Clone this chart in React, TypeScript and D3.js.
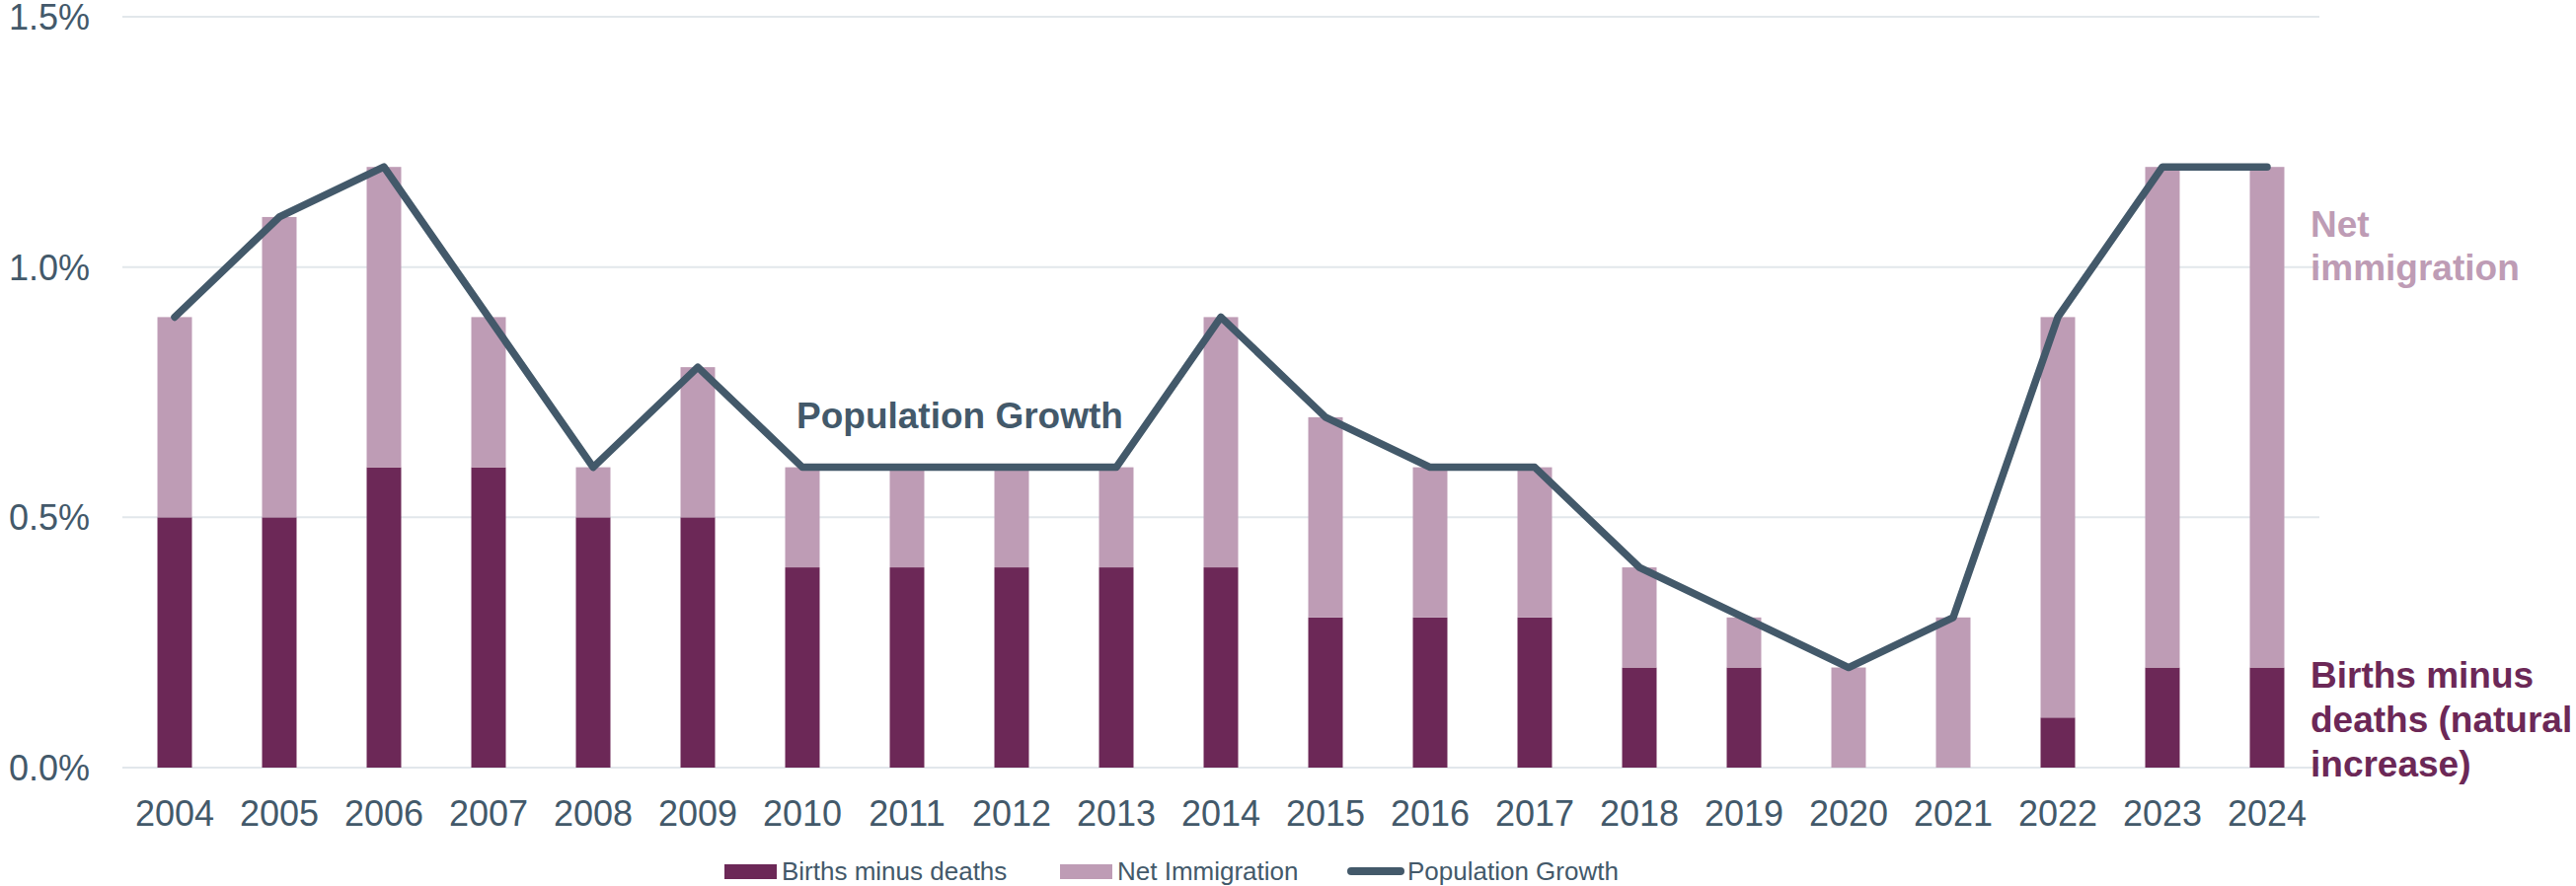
import React, { useEffect, useRef } from "react";
import * as d3 from "d3";

const years = ["2004", "2005", "2006", "2007", "2008", "2009", "2010", "2011", "2012", "2013", "2014", "2015", "2016", "2017", "2018", "2019", "2020", "2021", "2022", "2023", "2024"];
const birthsMinusDeaths = [0.5, 0.5, 0.6, 0.6, 0.5, 0.5, 0.4, 0.4, 0.4, 0.4, 0.4, 0.3, 0.3, 0.3, 0.2, 0.2, 0, 0, 0.1, 0.2, 0.2];
const netImmigration = [0.4, 0.6, 0.6, 0.3, 0.1, 0.3, 0.2, 0.2, 0.2, 0.2, 0.5, 0.4, 0.3, 0.3, 0.2, 0.1, 0.2, 0.3, 0.8, 1.0, 1.0];
const populationGrowth = [0.9, 1.1, 1.2, 0.9, 0.6, 0.8, 0.6, 0.6, 0.6, 0.6, 0.9, 0.7, 0.6, 0.6, 0.4, 0.3, 0.2, 0.3, 0.9, 1.2, 1.2];
const yTicks = [0, 0.5, 1.0, 1.5];

const DARK = "#6C2857";
const LIGHT = "#BE9CB5";
const SLATE = "#43596A";
const GRID = "#E2E7EB";
const FONT = "'Liberation Sans', Arial, sans-serif";

const App = () => {
  const svgRef = useRef<SVGSVGElement>(null);
  const width = 2610;
  const height = 898;
  const margin = { top: 17, right: 260, bottom: 120, left: 124 };

  useEffect(() => {
    const svg = d3.select(svgRef.current);
    svg.selectAll("*").remove();

    const x = d3
      .scaleBand()
      .domain(years)
      .range([margin.left, width - margin.right])
      .paddingInner(0.67)
      .paddingOuter(0.335);

    const y = d3
      .scaleLinear()
      .domain([0, 1.5])
      .range([height - margin.bottom, margin.top]);

    // gridlines
    svg
      .append("g")
      .selectAll("line")
      .data(yTicks)
      .enter()
      .append("line")
      .attr("x1", margin.left)
      .attr("x2", width - margin.right)
      .attr("y1", (d) => y(d))
      .attr("y2", (d) => y(d))
      .attr("stroke", GRID)
      .attr("stroke-width", 2);

    // y labels
    svg
      .append("g")
      .selectAll("text")
      .data(yTicks)
      .enter()
      .append("text")
      .attr("x", 91)
      .attr("y", (d) => y(d) + 13)
      .attr("text-anchor", "end")
      .style("font-family", FONT)
      .style("font-size", "36px")
      .attr("fill", SLATE)
      .text((d) => d.toFixed(1) + "%");

    // stacked bars
    svg
      .append("g")
      .selectAll("rect")
      .data(years)
      .enter()
      .append("rect")
      .attr("x", (d) => x(d)!)
      .attr("width", x.bandwidth())
      .attr("y", (d, i) => y(birthsMinusDeaths[i]))
      .attr("height", (d, i) => y(0) - y(birthsMinusDeaths[i]))
      .attr("fill", DARK);

    svg
      .append("g")
      .selectAll("rect")
      .data(years)
      .enter()
      .append("rect")
      .attr("x", (d) => x(d)!)
      .attr("width", x.bandwidth())
      .attr("y", (d, i) => y(birthsMinusDeaths[i] + netImmigration[i]))
      .attr("height", (d, i) => y(birthsMinusDeaths[i]) - y(birthsMinusDeaths[i] + netImmigration[i]))
      .attr("fill", LIGHT);

    // x labels
    svg
      .append("g")
      .selectAll("text")
      .data(years)
      .enter()
      .append("text")
      .attr("x", (d) => x(d)! + x.bandwidth() / 2)
      .attr("y", 837)
      .attr("text-anchor", "middle")
      .style("font-family", FONT)
      .style("font-size", "36px")
      .attr("fill", SLATE)
      .text((d) => d);

    // population growth line
    const line = d3
      .line<number>()
      .x((d, i) => x(years[i])! + x.bandwidth() / 2)
      .y((d) => y(d));

    svg
      .append("path")
      .datum(populationGrowth)
      .attr("d", line)
      .attr("fill", "none")
      .attr("stroke", SLATE)
      .attr("stroke-width", 7.5)
      .attr("stroke-linejoin", "round")
      .attr("stroke-linecap", "round");

    // annotations
    svg
      .append("text")
      .attr("x", 807)
      .attr("y", 434)
      .style("font-family", FONT)
      .style("font-size", "37px")
      .style("font-weight", "bold")
      .attr("fill", SLATE)
      .text("Population Growth");

    const netLabel = svg
      .append("text")
      .style("font-family", FONT)
      .style("font-size", "37px")
      .style("font-weight", "bold")
      .attr("fill", LIGHT);
    ["Net", "immigration"].forEach((t, i) =>
      netLabel.append("tspan").attr("x", 2341).attr("y", 240 + i * 44).text(t)
    );

    const birthsLabel = svg
      .append("text")
      .style("font-family", FONT)
      .style("font-size", "37px")
      .style("font-weight", "bold")
      .attr("fill", DARK);
    ["Births minus", "deaths (natural", "increase)"].forEach((t, i) =>
      birthsLabel.append("tspan").attr("x", 2341).attr("y", 697 + i * 45).text(t)
    );

    // legend
    const legend = svg.append("g").style("font-family", FONT).style("font-size", "26px");
    legend.append("rect").attr("x", 734).attr("y", 876).attr("width", 53).attr("height", 15).attr("fill", DARK);
    legend.append("text").attr("x", 792).attr("y", 892).attr("fill", SLATE).text("Births minus deaths");
    legend.append("rect").attr("x", 1074).attr("y", 876).attr("width", 53).attr("height", 15).attr("fill", LIGHT);
    legend.append("text").attr("x", 1132).attr("y", 892).attr("fill", SLATE).text("Net Immigration");
    legend
      .append("line")
      .attr("x1", 1369)
      .attr("x2", 1419)
      .attr("y1", 883)
      .attr("y2", 883)
      .attr("stroke", SLATE)
      .attr("stroke-width", 8)
      .attr("stroke-linecap", "round");
    legend.append("text").attr("x", 1426).attr("y", 892).attr("fill", SLATE).text("Population Growth");
  }, []);

  return (
    <svg
      ref={svgRef}
      width={width}
      height={height}
      style={{ position: "absolute", left: 0, top: 0, background: "#fff" }}
    ></svg>
  );
};

export default App;
